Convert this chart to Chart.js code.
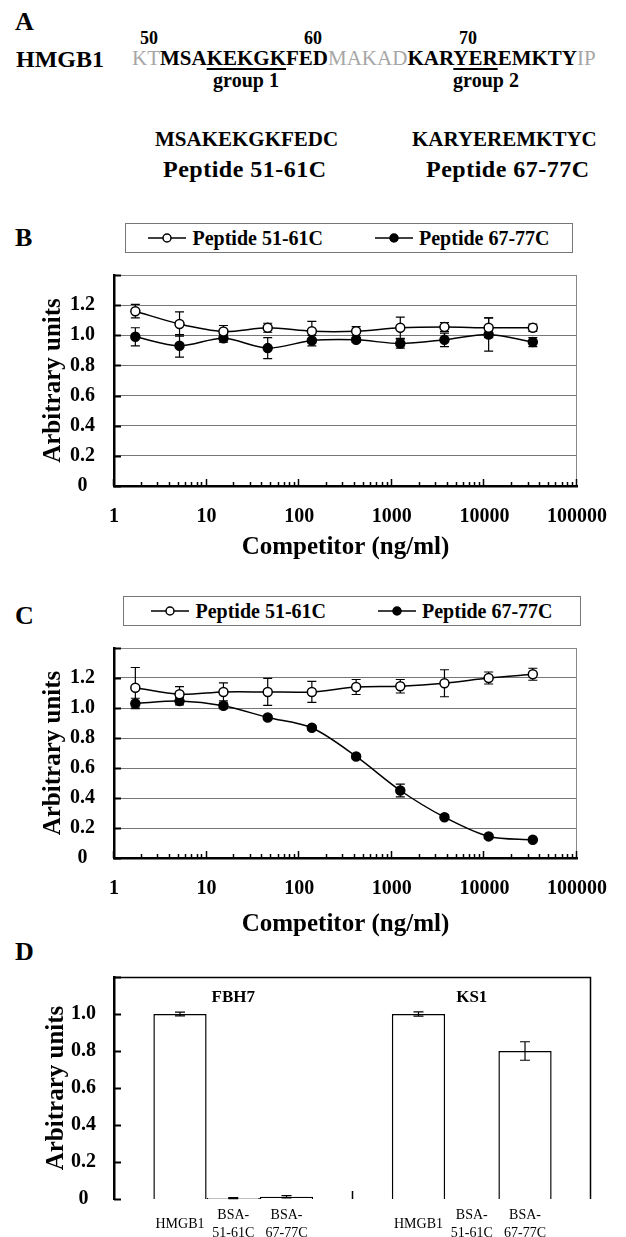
<!DOCTYPE html>
<html>
<head>
<meta charset="utf-8">
<script src="https://cdn.jsdelivr.net/npm/chart.js@4.4.1/dist/chart.umd.min.js"></script>
<style>
  html, body { margin: 0; padding: 0; background: #fff; }
  body { width: 626px; height: 1237px; position: relative; overflow: hidden;
         font-family: 'Liberation Serif', 'Times New Roman', serif; color: #000; }
  .abs { position: absolute; white-space: nowrap; line-height: 1; font-weight: bold; }
  .center { transform: translateX(-50%); }
  canvas { position: absolute; left: 0; }
  .seq .dim { color: #a6a6a6; font-weight: normal; }
  .seq u { text-decoration-thickness: 2px; text-underline-offset: 3px; }
  .legend { position: absolute; height: 30px; border: 1px solid #777; box-sizing: border-box;
            display: flex; align-items: center; justify-content: center; background: #fff; }
  .legend .item { display: flex; align-items: center; font-size: 20px; font-weight: bold; line-height: 1; }
  .legend .item + .item { margin-left: 52px; }
  .legend svg { margin-right: 6px; }
</style>
</head>
<body>

<!-- panel A: sequence -->
<div class="abs" style="left:15px;top:9px;font-size:26px">A</div>
<div class="abs" style="left:140px;top:29px;font-size:18px">50</div>
<div class="abs" style="left:304px;top:29px;font-size:18px">60</div>
<div class="abs" style="left:459px;top:29px;font-size:18px">70</div>
<div class="abs" style="left:16px;top:47px;font-size:24px">HMGB1</div>
<div class="abs seq" style="left:132px;top:48px;font-size:21px"><span class="dim">KT</span>MSA<u>KEKGK</u>FED<span class="dim">MAKAD</span>KAR<u>YER</u>EMKTY<span class="dim">IP</span></div>
<div class="abs center" style="left:246px;top:70px;font-size:20px">group 1</div>
<div class="abs center" style="left:486px;top:70px;font-size:20px">group 2</div>
<div class="abs" style="left:155px;top:129px;font-size:21px">MSAKEKGKFEDC</div>
<div class="abs" style="left:412px;top:129px;font-size:21px">KARYEREMKTYC</div>
<div class="abs" style="left:163px;top:157px;font-size:24px;letter-spacing:0.5px">Peptide 51-61C</div>
<div class="abs" style="left:426px;top:157px;font-size:24px;letter-spacing:0.5px">Peptide 67-77C</div>

<div class="abs" style="left:15px;top:225px;font-size:26px">B</div>
<div class="abs" style="left:15px;top:603px;font-size:26px">C</div>
<div class="abs" style="left:15px;top:939px;font-size:26px">D</div>

<canvas id="chartB" width="626" height="326" style="top:244px"></canvas>
<canvas id="chartC" width="626" height="330" style="top:617px"></canvas>
<canvas id="chartD" width="626" height="290" style="top:947px"></canvas>

<div class="legend" id="legendB" style="left:125px;top:223px;width:448px"></div>
<div class="legend" id="legendC" style="left:123px;top:596px;width:458px"></div>

<script>
// competitor concentrations (ng/ml), 3-fold dilutions
const competitor = [1.7, 5.1, 15.2, 45.7, 137, 412, 1235, 3704, 11111, 33333];
const seriesNames = ['Peptide 51-61C', 'Peptide 67-77C'];
const markerFill = ['#fff', '#000'];

// panel B
const b51 = [1.16, 1.075, 1.025, 1.05, 1.027, 1.027, 1.05, 1.055, 1.05, 1.05];
const b51Err = [0.045, 0.08, 0.04, 0.03, 0.065, 0.03, 0.07, 0.03, 0.065, 0.025];
const b67 = [0.99, 0.93, 0.98, 0.915, 0.965, 0.97, 0.945, 0.97, 1.005, 0.955];
const b67Err = [0.06, 0.075, 0.025, 0.07, 0.035, 0.015, 0.03, 0.045, 0.11, 0.03];

// panel C
const c51 = [1.135, 1.092, 1.107, 1.107, 1.107, 1.14, 1.145, 1.165, 1.2, 1.225];
const c51Err = [0.135, 0.05, 0.06, 0.09, 0.07, 0.05, 0.045, 0.09, 0.04, 0.04];
const c67 = [1.03, 1.046, 1.015, 0.937, 0.868, 0.677, 0.45, 0.272, 0.144, 0.122];
const c67Err = [0.035, 0.025, 0.02, 0.01, 0.015, 0.01, 0.043, 0.015, 0.01, 0.008];

// panel D
const groups = ['FBH7', 'KS1'];
const coatings = ['HMGB1', 'BSA-51-61C', 'BSA-67-77C'];
const dHmgb1 = [1.0, 1.0];
const dHmgb1Err = [0.01, 0.012];
const dBsa51 = [0.005, 0];
const dBsa51Err = [0.003, 0];
const dBsa67 = [0.012, 0.80];
const dBsa67Err = [0.006, 0.05];

const yTitle = 'Arbitrary units';
const xTitle = 'Competitor (ng/ml)';

Chart.defaults.font.family = "'Liberation Serif', 'Times New Roman', serif";
Chart.defaults.color = '#000';
Chart.defaults.animation = false;

function isDecade(v) {
  const l = Math.log10(v);
  return Math.abs(l - Math.round(l)) < 1e-9;
}

function drawErrors(chart, opts) {
  const ctx = chart.ctx;
  const y = chart.scales.y;
  ctx.save();
  ctx.strokeStyle = '#000';
  ctx.lineWidth = opts.width || 1.2;
  (opts.errors || []).forEach(function (errs, di) {
    const meta = chart.getDatasetMeta(di);
    const values = chart.data.datasets[di].data;
    meta.data.forEach(function (el, j) {
      const e = errs[j];
      if (!e) return;
      const top = y.getPixelForValue(values[j] + e);
      const bot = y.getPixelForValue(values[j] - e);
      const w = opts.cap;
      ctx.beginPath();
      ctx.moveTo(el.x, top); ctx.lineTo(el.x, bot);
      ctx.moveTo(el.x - w, top); ctx.lineTo(el.x + w, top);
      ctx.moveTo(el.x - w, bot); ctx.lineTo(el.x + w, bot);
      ctx.stroke();
    });
  });
  ctx.restore();
}

const errorBars = {
  id: 'errorBars',
  beforeDatasetsDraw(chart, args, opts) { if (!opts.onTop) drawErrors(chart, opts); },
  afterDatasetsDraw(chart, args, opts) { if (opts.onTop) drawErrors(chart, opts); }
};

// frame on top/right + tick marks pointing into the plot
const frameTicks = {
  id: 'frameTicks',
  afterDraw(chart, args, opts) {
    const ctx = chart.ctx;
    const a = chart.chartArea;
    ctx.save();
    ctx.strokeStyle = opts.frame;
    ctx.lineWidth = opts.frameWidth;
    ctx.beginPath();
    ctx.moveTo(a.left, a.top + 0.5);
    ctx.lineTo(a.right - 0.5, a.top + 0.5);
    ctx.lineTo(a.right - 0.5, a.bottom);
    ctx.stroke();

    ctx.strokeStyle = '#000';
    ctx.lineWidth = 2;
    const ys = chart.scales.y;
    ys.ticks.forEach(function (t) {
      const py = Math.round(ys.getPixelForValue(t.value)) + 0.5;
      ctx.beginPath(); ctx.moveTo(a.left, py); ctx.lineTo(a.left + 7, py); ctx.stroke();
    });

    ctx.lineWidth = 1.5;
    if (opts.logTicks) {
      const xs = chart.scales.x;
      xs.ticks.forEach(function (t) {
        const m = t.value / Math.pow(10, Math.floor(Math.log10(t.value) + 1e-9));
        if (Math.abs(m - Math.round(m)) > 1e-6) return;
        const px = Math.round(xs.getPixelForValue(t.value)) - 0.5;
        const len = isDecade(t.value) ? 7 : 4;
        ctx.beginPath(); ctx.moveTo(px, a.bottom); ctx.lineTo(px, a.bottom - len); ctx.stroke();
      });
    }
    if (opts.groupTitles) {
      const xs = chart.scales.x;
      const px = (xs.getPixelForValue(0) + xs.getPixelForValue(1)) / 2;
      ctx.beginPath(); ctx.moveTo(px, a.bottom); ctx.lineTo(px, a.bottom - 8); ctx.stroke();
      ctx.font = "bold 17px 'Liberation Serif', serif";
      ctx.fillStyle = '#000';
      ctx.textAlign = 'center';
      ctx.textBaseline = 'middle';
      chart.data.labels.forEach(function (g, i) {
        ctx.fillText(g, xs.getPixelForValue(i), a.top + 21);
      });
    }
    ctx.restore();
  }
};

function yLabel(v, top) {
  if (Math.abs(v - top) < 1e-6) return '';
  return v === 0 ? '0' : v.toFixed(1);
}

function competitionChart(id, vals51, err51, vals67, err67) {
  const style = function (i, vals) {
    return {
      label: seriesNames[i], data: vals,
      borderColor: '#000', borderWidth: 1.5, tension: 0.3,
      pointRadius: 4.5, pointBorderWidth: 1.5,
      pointBackgroundColor: markerFill[i], pointBorderColor: '#000',
      backgroundColor: markerFill[i]
    };
  };
  return new Chart(document.getElementById(id), {
    type: 'line',
    data: { labels: competitor, datasets: [style(0, vals51), style(1, vals67)] },
    options: {
      responsive: false,
      animation: false,
      layout: { padding: { top: 20, right: 38, bottom: 0, left: 0 } },
      plugins: {
        legend: { display: false },
        tooltip: { enabled: false },
        errorBars: { errors: [err51, err67], cap: 4.5 },
        frameTicks: { frame: '#888', frameWidth: 1, logTicks: true }
      },
      scales: {
        x: {
          type: 'logarithmic', min: 1, max: 100000,
          grid: { display: false, drawTicks: false },
          border: { color: '#000', width: 2.5 },
          ticks: {
            autoSkip: false, maxRotation: 0, padding: 19,
            font: { size: 20, weight: 'bold' },
            callback: function (v) { return isDecade(v) ? String(Math.round(v)) : ''; }
          },
          title: { display: true, text: xTitle, font: { size: 25, weight: 'bold' }, padding: { top: 0, bottom: 7 } },
          afterFit: function (s) { s.height = id === 'chartB' ? 84 : 89; }
        },
        y: {
          min: 0, max: 1.4,
          grid: { color: '#777', lineWidth: 1, drawTicks: false },
          border: { color: '#000', width: 2.5 },
          ticks: {
            stepSize: 0.2, crossAlign: 'center', padding: 19,
            font: { size: 20, weight: 'bold' },
            callback: function (v) { return yLabel(v, 1.4); }
          },
          title: { display: true, text: yTitle, font: { size: 25, weight: 'bold' }, padding: { top: 39, bottom: 0 } },
          afterFit: function (s) { s.width = 114; }
        }
      }
    },
    plugins: [errorBars, frameTicks]
  });
}

function buildLegend(id) {
  const el = document.getElementById(id);
  seriesNames.forEach(function (name, i) {
    const item = document.createElement('div');
    item.className = 'item';
    item.innerHTML = '<svg width="38" height="12"><line x1="0" y1="6" x2="38" y2="6" stroke="#000" stroke-width="1.5"/>' +
      '<circle cx="19" cy="6" r="4" fill="' + markerFill[i] + '" stroke="#000" stroke-width="1.5"/></svg>';
    const span = document.createElement('span');
    span.textContent = name;
    item.appendChild(span);
    el.appendChild(item);
  });
}

buildLegend('legendB');
buildLegend('legendC');
competitionChart('chartB', b51, b51Err, b67, b67Err);
competitionChart('chartC', c51, c51Err, c67, c67Err);

// panel D
const catPct = 0.67;
const barSlot = catPct / coatings.length;
const dValues = [dHmgb1, dBsa51, dBsa67];
const dErrors = [dHmgb1Err, dBsa51Err, dBsa67Err];

new Chart(document.getElementById('chartD'), {
  type: 'bar',
  data: {
    labels: groups,
    datasets: coatings.map(function (c, k) {
      return { label: c, data: dValues[k], backgroundColor: '#fff', borderColor: '#000',
               borderWidth: 1.5, categoryPercentage: catPct, barPercentage: 1 };
    })
  },
  options: {
    responsive: false,
    animation: false,
    layout: { padding: { top: 20, right: 35, bottom: 0, left: 0 } },
    plugins: {
      legend: { display: false },
      tooltip: { enabled: false },
      errorBars: { errors: dErrors, cap: 5, onTop: true },
      frameTicks: { frame: '#000', frameWidth: 1.5, groupTitles: true }
    },
    scales: {
      x: { display: false },
      // label axis: one tick under each bar
      x2: {
        type: 'linear', position: 'bottom', min: -0.5, max: 1.5, offset: false,
        afterBuildTicks: function (s) {
          s.ticks = [];
          groups.forEach(function (g, i) {
            coatings.forEach(function (c, k) { s.ticks.push({ value: i + (k - 1) * barSlot }); });
          });
        },
        grid: { display: false, drawTicks: false, offset: false },
        border: { display: false },
        ticks: {
          autoSkip: false, maxRotation: 0, crossAlign: 'center', padding: 16,
          font: { size: 14, lineHeight: 1.3 },
          callback: function (v, i) {
            const c = coatings[i % coatings.length];
            return c.indexOf('BSA-') === 0 ? ['BSA-', c.slice(4)] : c;
          }
        },
        afterFit: function (s) { s.height = 38; }
      },
      y: {
        min: 0, max: 1.2,
        grid: { display: false, drawTicks: false },
        border: { color: '#000', width: 2.5 },
        ticks: {
          stepSize: 0.2, crossAlign: 'center', padding: 18,
          font: { size: 20, weight: 'bold' },
          callback: function (v) { return yLabel(v, 1.2); }
        },
        title: { display: true, text: yTitle, font: { size: 25, weight: 'bold' }, padding: { top: 42, bottom: 0 } },
        afterFit: function (s) { s.width = 114; }
      }
    }
  },
  plugins: [errorBars, frameTicks]
});
</script>
</body>
</html>
